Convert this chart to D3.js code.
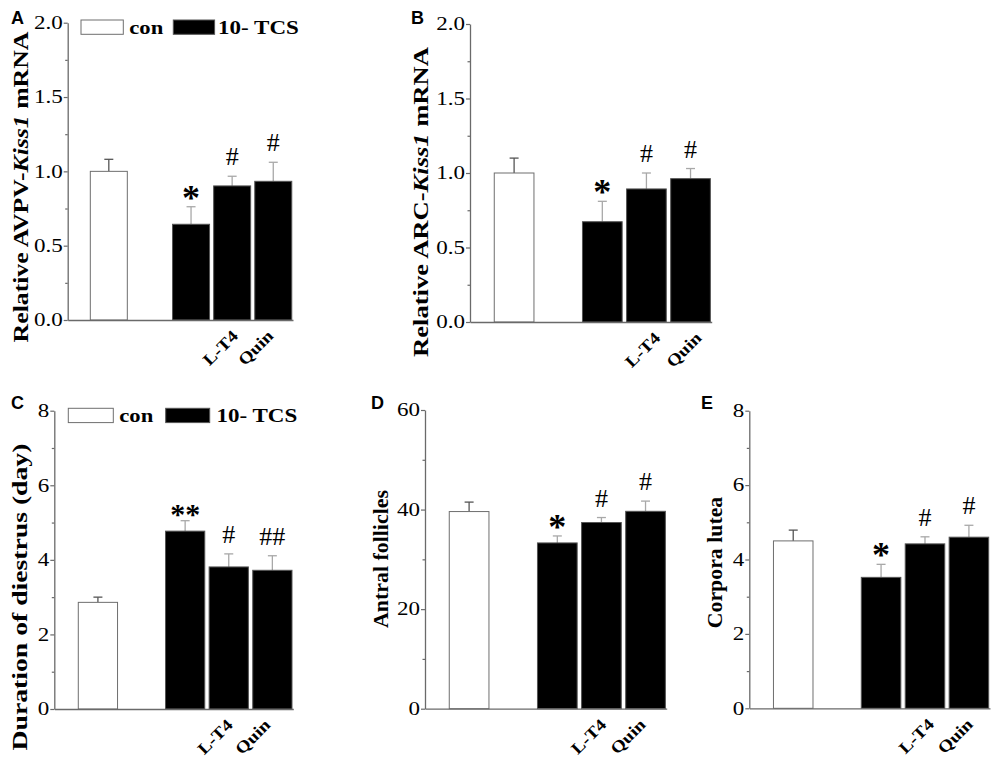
<!DOCTYPE html>
<html><head><meta charset="utf-8">
<script src="https://cdn.jsdelivr.net/npm/d3@7"></script>
<style>body{margin:0;background:#fff} svg{display:block}</style>
</head><body>
<svg id="fig" width="1000" height="761"></svg>
<script>
// ---------- data ----------
const groups = ["con", "10- TCS", "L-T4", "Quin"];
const groupSlots = [0, 2, 3, 4];
const xLabels = ["", "", "L-T4", "Quin"];
const legendLabels = ["con", "10- TCS"];

const avpvMean = [1.00, 0.644, 0.902, 0.933];
const avpvErr  = [0.081, 0.118, 0.065, 0.128];
const avpvSig  = ["", "*", "#", "#"];

const arcMean = [1.00, 0.673, 0.893, 0.962];
const arcErr  = [0.100, 0.137, 0.107, 0.068];
const arcSig  = ["", "*", "#", "#"];

const diestrusMean = [2.86, 4.77, 3.81, 3.72];
const diestrusErr  = [0.14, 0.28, 0.35, 0.39];
const diestrusSig  = ["", "**", "#", "##"];

const antralMean = [39.6, 33.3, 37.4, 39.65];
const antralErr  = [1.9, 1.4, 1.0, 2.05];
const antralSig  = ["", "*", "#", "#"];

const luteaMean = [4.50, 3.52, 4.42, 4.60];
const luteaErr  = [0.29, 0.35, 0.19, 0.32];
const luteaSig  = ["", "*", "#", "#"];

const ticksKiss = [0, 0.5, 1.0, 1.5, 2.0];
const ticksDiestrus = [0, 2, 4, 6, 8];
const ticksAntral = [0, 20, 40, 60];
const ticksLutea = [0, 2, 4, 6, 8];

// ---------- layout ----------
const SERIF = "'Liberation Serif','Times New Roman',serif";
const SANS = "'Liberation Sans',Arial,sans-serif";
const svg = d3.select("#fig");

const panels = [
  {id:"A", mean:avpvMean, err:avpvErr, sig:avpvSig, yMax:2, ticks:ticksKiss, minorStep:0.25, fmt:d3.format(".1f"),
   x0:67.7, x1:293, yTop:22.7, yBot:320,
   label:["Relative AVPV-","Kiss1"," mRNA"], labX:28, labY:187, labLen:311,
   letter:[11,24.3], legend:{x:81, y:20, w:42.3, gap:44, tw:44.8}, lblDx:[0,0,7,1]},
  {id:"B", mean:arcMean, err:arcErr, sig:arcSig, yMax:2, ticks:ticksKiss, minorStep:0.25, fmt:d3.format(".1f"),
   x0:470, x1:711.7, yTop:24, yBot:322,
   label:["Relative ARC-","Kiss1"," mRNA"], labX:428, labY:202, labLen:310,
   letter:[411,24.3], legend:null, lblDx:[0,0,15,12]},
  {id:"C", mean:diestrusMean, err:diestrusErr, sig:diestrusSig, yMax:8, ticks:ticksDiestrus, minorStep:1, fmt:d3.format("d"),
   x0:54.3, x1:293.3, yTop:410.7, yBot:709,
   label:["Duration of diestrus (day)"], labX:26.5, labY:597, labLen:307,
   letter:[11,409.3], legend:{x:68.3, y:408.3, w:45, gap:46.4, tw:50.8}, lblDx:[0,0,5,-1]},
  {id:"D", mean:antralMean, err:antralErr, sig:antralSig, yMax:60, ticks:ticksAntral, minorStep:10, fmt:d3.format("d"),
   x0:425, x1:666.7, yTop:410, yBot:708.7,
   label:["Antral follicles"], labX:388, labY:559, labLen:138,
   letter:[371,409.3], legend:null, lblDx:[0,0,6,1]},
  {id:"E", mean:luteaMean, err:luteaErr, sig:luteaSig, yMax:8, ticks:ticksLutea, minorStep:1, fmt:d3.format("d"),
   x0:749.3, x1:990, yTop:410.7, yBot:708.3,
   label:["Corpora lutea"], labX:721.5, labY:562.5, labLen:131.6,
   letter:[701,409.3], legend:null, lblDx:[0,0,10,5]}
];

const AX = "#6a6a6a";

function drawPanel(p) {
  const g = svg.append("g").attr("class", "panel-" + p.id);
  const x = d3.scaleLinear().domain([-1, 4.48]).range([p.x0, p.x1]);
  const y = d3.scaleLinear().domain([0, p.yMax]).range([p.yBot, p.yTop]);
  const slotW = x(1) - x(0);
  const bw = slotW * 0.9;
  const cx = i => x(groupSlots[i]);

  // error bars (upper only)
  const eb = g.append("g");
  p.mean.forEach((m, i) => {
    const col = i === 0 ? "#555" : "#a8a8a8";
    eb.append("line").attr("x1", cx(i)).attr("x2", cx(i)).attr("y1", y(m)).attr("y2", y(m + p.err[i]))
      .attr("stroke", col).attr("stroke-width", 1.3);
    eb.append("line").attr("x1", cx(i) - 4.5).attr("x2", cx(i) + 4.5).attr("y1", y(m + p.err[i])).attr("y2", y(m + p.err[i]))
      .attr("stroke", col).attr("stroke-width", 1.3);
  });

  // bars
  g.append("g").selectAll("rect").data(p.mean).join("rect")
    .attr("x", (d, i) => cx(i) - bw / 2).attr("y", d => y(d))
    .attr("width", bw).attr("height", d => y(0) - y(d))
    .attr("fill", (d, i) => i === 0 ? "#fff" : "#000")
    .attr("stroke", (d, i) => i === 0 ? "#6e6e6e" : "#555")
    .attr("stroke-width", 1);

  // minor ticks
  const minor = d3.range(0, p.yMax + 1e-9, p.minorStep).filter(v => !p.ticks.some(t => Math.abs(t - v) < 1e-9));
  g.append("g").attr("transform", `translate(${p.x0},0)`)
    .call(d3.axisLeft(y).tickValues(minor).tickSize(2.5).tickFormat("").tickSizeOuter(0))
    .call(s => s.select(".domain").remove())
    .call(s => s.selectAll("line").attr("stroke", AX).attr("stroke-width", 1.2));

  // major axis
  const sx = 1.28;
  g.append("g").attr("transform", `translate(${p.x0},0)`)
    .call(d3.axisLeft(y).tickValues(p.ticks).tickFormat(p.fmt).tickSize(4).tickSizeOuter(0).tickPadding(3))
    .call(s => s.select(".domain").attr("stroke", AX).attr("stroke-width", 1.3))
    .call(s => s.selectAll("line").attr("stroke", AX).attr("stroke-width", 1.2))
    .call(s => s.selectAll("text")
      .attr("font-family", SERIF).attr("font-size", 18).attr("fill", "#000")
      .attr("x", -5 / sx).attr("transform", `scale(${sx},1)`));

  // x axis baseline
  g.append("g").attr("transform", `translate(0,${p.yBot})`)
    .call(d3.axisBottom(x).tickValues([]).tickSizeOuter(0))
    .call(s => s.select(".domain").attr("stroke", AX).attr("stroke-width", 1.3));

  // rotated category labels
  xLabels.forEach((t, i) => {
    if (!t) return;
    g.append("text")
      .attr("transform", `translate(${cx(i) + p.lblDx[i]},${p.yBot + 17}) rotate(-45) scale(1.17,1)`)
      .attr("text-anchor", "end").attr("font-family", SERIF).attr("font-weight", "bold")
      .attr("font-size", 16.5).text(t);
  });

  // significance marks
  p.sig.forEach((t, i) => {
    if (!t) return;
    const top = y(p.mean[i] + p.err[i]);
    const star = t.includes("*");
    g.append("text").attr("x", cx(i)).attr("y", star ? top + 3 : top - 11)
      .attr("text-anchor", "middle").attr("font-family", SERIF)
      .attr("font-weight", star ? "bold" : "normal")
      .attr("font-size", star ? (t.length > 1 ? 30 : 36) : 26)
      .text(t);
  });

  // y label
  const lt = g.append("text")
    .attr("text-anchor", "middle").attr("font-family", SERIF).attr("font-weight", "bold").attr("font-size", 22);
  p.label.forEach((s, k) => {
    lt.append("tspan").attr("font-style", (p.label.length === 3 && k === 1) ? "italic" : "normal").text(s);
  });
  const natural = lt.node().getComputedTextLength();
  lt.attr("transform", `translate(${p.labX},${p.labY}) rotate(-90) scale(${p.labLen / natural},1)`);

  // panel letter
  g.append("text").attr("x", p.letter[0]).attr("y", p.letter[1])
    .attr("font-family", SANS).attr("font-weight", "bold").attr("font-size", 18).text(p.id);

  // legend
  if (p.legend) {
    const lg = p.legend;
    const L = g.append("g").attr("transform", `translate(${lg.x},${lg.y})`);
    L.append("rect").attr("x", 0).attr("y", 0).attr("width", lg.w).attr("height", 14.3)
      .attr("fill", "#fff").attr("stroke", "#6e6e6e").attr("stroke-width", 1);
    L.append("text").attr("transform", `translate(${lg.w + 6},13.5) scale(1.16,1)`)
      .attr("font-family", SERIF).attr("font-weight", "bold").attr("font-size", 19.5).text(legendLabels[0]);
    const bx = lg.w + 6 + lg.gap;
    L.append("rect").attr("x", bx).attr("y", 0).attr("width", lg.w - 1).attr("height", 14.3)
      .attr("fill", "#000").attr("stroke", "#555").attr("stroke-width", 1);
    L.append("text").attr("transform", `translate(${bx + lg.tw},13.5) scale(1.18,1)`)
      .attr("font-family", SERIF).attr("font-weight", "bold").attr("font-size", 19.5).text(legendLabels[1]);
  }
}

panels.forEach(drawPanel);
</script>
</body></html>
